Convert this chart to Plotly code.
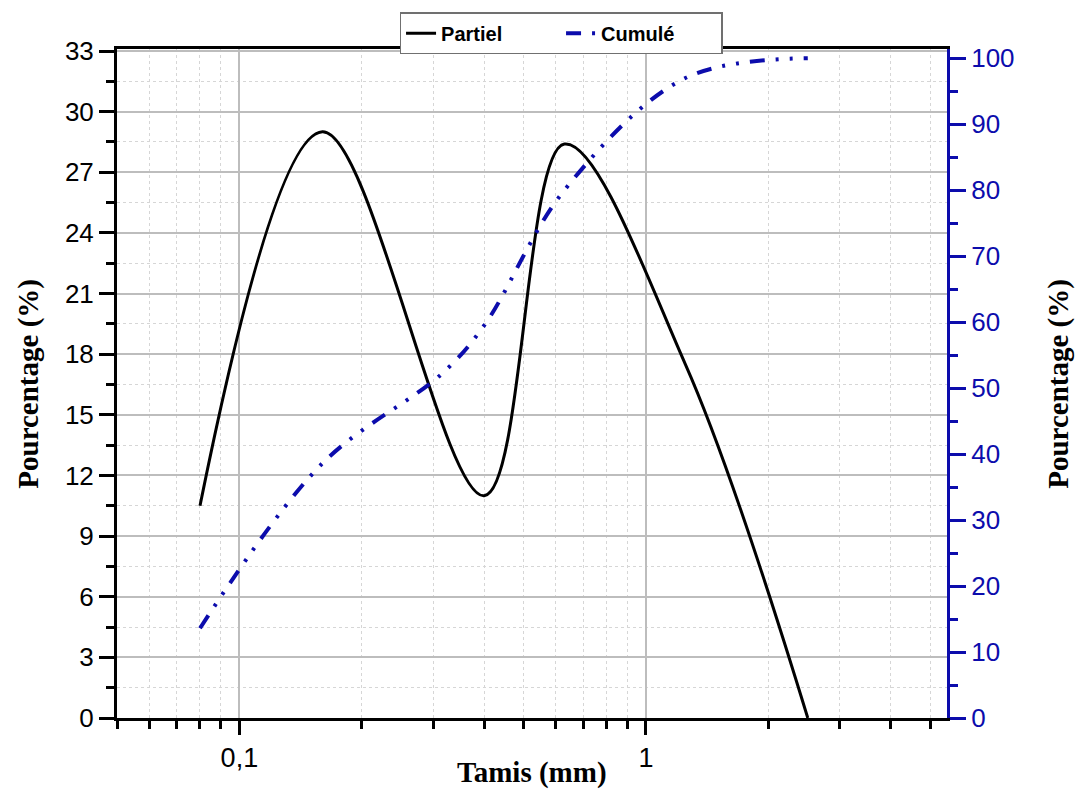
import plotly.graph_objects as go
import math

# ---- data ----
tamis_partiel = [0.08, 0.16, 0.4, 0.63, 1.25, 2.5]
partiel = [10.5, 29.0, 11.0, 28.4, 17.5, 0.0]
tamis_cumule = [0.08, 0.16, 0.315, 0.4, 0.63, 1.25, 2.5]
cumule = [13.6, 38.6, 52.2, 59.5, 80.0, 97.0, 100.0]

x_major_vals = [0.1, 1]
x_major_text = ["0,1", "1"]
x_minor_vals = [0.05, 0.06, 0.07, 0.08, 0.09, 0.2, 0.3, 0.4, 0.5, 0.6, 0.7, 0.8, 0.9, 2, 3, 4, 5]

BLUE = "#0c0cac"
SANS = "Liberation Sans, Arial, sans-serif"
SERIF = "Liberation Serif, Times New Roman, serif"

fig = go.Figure()
fig.add_trace(go.Scatter(
    x=tamis_partiel, y=partiel, name="<b>Partiel</b>", mode="lines",
    line=dict(color="black", width=3, shape="spline", smoothing=1.0),
    yaxis="y"))
fig.add_trace(go.Scatter(
    x=tamis_cumule, y=cumule, name="<b>Cumulé</b>", mode="lines",
    line=dict(color=BLUE, width=4, shape="spline", smoothing=1.0,
              dash="15px,11px,3px,11px,3px,11px"),
    yaxis="y2"))

fig.update_layout(
    width=1075, height=789,
    margin=dict(l=117, r=128, t=47, b=71),
    paper_bgcolor="white", plot_bgcolor="white",
    showlegend=True,
    legend=dict(
        orientation="h", x=0.535, xanchor="center", y=1.055, yanchor="top",
        bgcolor="white", bordercolor="#707070", borderwidth=1.5,
        font=dict(family=SANS, size=20, color="black"),
        entrywidth=115, entrywidthmode="pixels",
    ),
    xaxis=dict(
        type="log", range=[math.log10(0.05), math.log10(5.5)],
        tickmode="array", tickvals=x_major_vals, ticktext=x_major_text,
        ticks="outside", ticklen=14, tickwidth=3, tickcolor="black",
        tickfont=dict(family=SANS, size=27, color="black"),
        showline=True, linecolor="black", linewidth=3, mirror=True,
        showgrid=True, gridcolor="#bdbdbd", gridwidth=1.5,
        zeroline=False,
        minor=dict(tickmode="array", tickvals=x_minor_vals,
                   ticks="outside", ticklen=8, tickwidth=3, tickcolor="black",
                   showgrid=True, gridcolor="#d6d6d6", gridwidth=1, griddash="dot"),
    ),
    yaxis=dict(
        range=[0, 33.1], tickmode="linear", tick0=0, dtick=3,
        ticks="outside", ticklen=15, tickwidth=3, tickcolor="black",
        tickfont=dict(family=SANS, size=26, color="black"),
        showline=True, linecolor="black", linewidth=3,
        showgrid=True, gridcolor="#bdbdbd", gridwidth=1.5,
        zeroline=False,
        minor=dict(dtick=1.5, ticks="outside", ticklen=8, tickwidth=3, tickcolor="black",
                   showgrid=True, gridcolor="#d6d6d6", gridwidth=1, griddash="dot"),
    ),
    yaxis2=dict(
        overlaying="y", side="right", anchor="x",
        range=[0, 101.4], tickmode="linear", tick0=0, dtick=10,
        ticks="outside", ticklen=16, tickwidth=3, tickcolor=BLUE,
        tickfont=dict(family=SANS, size=26, color=BLUE),
        showline=True, linecolor=BLUE, linewidth=3,
        showgrid=False, zeroline=False,
        minor=dict(dtick=5, ticks="outside", ticklen=8, tickwidth=3, tickcolor=BLUE,
                   showgrid=False),
    ),
    annotations=[
        dict(text="<b>Tamis (mm)</b>", xref="paper", yref="paper", x=0.5, y=-0.082,
             xanchor="center", yanchor="middle", showarrow=False,
             font=dict(family=SERIF, size=29, color="black")),
        dict(text="<b>Pourcentage (%)</b>", xref="paper", yref="paper", x=-0.107, y=0.5,
             xanchor="center", yanchor="middle", showarrow=False, textangle=-90,
             font=dict(family=SERIF, size=29, color="black")),
        dict(text="<b>Pourcentage (%)</b>", xref="paper", yref="paper", x=1.134, y=0.5,
             xanchor="center", yanchor="middle", showarrow=False, textangle=-90,
             font=dict(family=SERIF, size=29, color="black")),
    ],
)

fig.write_html("out.html")
